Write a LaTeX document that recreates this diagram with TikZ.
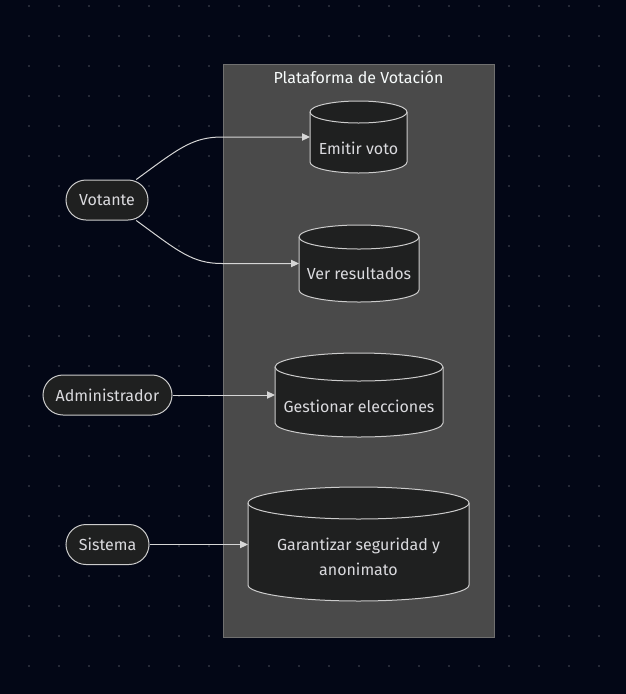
\documentclass[tikz,border=0pt]{standalone}
\usepackage{fontspec}
\setmainfont{Fira Sans}
\usetikzlibrary{arrows.meta}

\definecolor{bgnavy}{RGB}{3,7,22}
\definecolor{griddot}{RGB}{50,54,66}
\definecolor{groupfill}{RGB}{74,74,74}
\definecolor{groupline}{RGB}{112,112,112}
\definecolor{nodefill}{RGB}{31,32,32}
\definecolor{nodeline}{RGB}{204,204,204}
\definecolor{nodetext}{RGB}{218,218,222}
\definecolor{titletext}{RGB}{248,252,252}
\definecolor{linkcol}{RGB}{214,214,214}

\tikzset{every picture/.style={line width=0.75pt}}

\begin{document}
\begin{tikzpicture}[x=0.75pt,y=0.75pt,yscale=-1,xscale=1,
  actor/.style={draw=nodeline, fill=nodefill, rounded corners=15pt, minimum height=30pt, inner xsep=0pt, text=nodetext, font=\fontsize{12}{14}\selectfont},
  canbox/.style={inner sep=0pt, outer sep=0pt},
  can/.style={draw=nodeline, fill=nodefill},
  cantext/.style={text=nodetext, align=center, inner sep=0pt, font=\fontsize{12}{18.75}\selectfont},
  link/.style={draw=linkcol, -{Triangle[length=6pt,width=5.5pt]}}]
\useasboundingbox (0,0) rectangle (626,694);

%Background and dot grid
\fill[bgnavy] (0,0) rectangle (626,694);
\foreach \x in {29,59,...,599}
  \foreach \y in {6,36,...,666}
    \fill[griddot] (\x,\y) circle (1.2);

%Shape: Rectangle (subgraph)
\draw[draw=groupline, fill=groupfill] (223,64) rectangle (494,637);
% Text Node
\node[text=titletext, font=\fontsize{12}{14}\selectfont] (titulo) at (358.5,77) {Plataforma de Votación};

%Shape: Can
\draw[can] (310,112) arc[start angle=180,end angle=360,x radius=48.5,y radius=11] -- (407,162) arc[start angle=0,end angle=180,x radius=48.5,y radius=11] -- cycle;
\draw[nodeline] (310,112) arc[start angle=180,end angle=0,x radius=48.5,y radius=11];
\node[canbox, minimum width=72.75pt, minimum height=54pt] (emitir) at (358.5,137) {};
%Shape: Can
\draw[can] (299,237) arc[start angle=180,end angle=360,x radius=60,y radius=12] -- (419,290) arc[start angle=0,end angle=180,x radius=60,y radius=12] -- cycle;
\draw[nodeline] (299,237) arc[start angle=180,end angle=0,x radius=60,y radius=12];
\node[canbox, minimum width=90pt, minimum height=57.75pt] (resultados) at (359,263.5) {};
%Shape: Can
\draw[can] (275,367) arc[start angle=180,end angle=360,x radius=84,y radius=14] -- (443,423) arc[start angle=0,end angle=180,x radius=84,y radius=14] -- cycle;
\draw[nodeline] (275,367) arc[start angle=180,end angle=0,x radius=84,y radius=14];
\node[canbox, minimum width=126pt, minimum height=63pt] (gestionar) at (359,395) {};
%Shape: Can
\draw[can] (248,503) arc[start angle=180,end angle=360,x radius=110.5,y radius=16] -- (469,585) arc[start angle=0,end angle=180,x radius=110.5,y radius=16] -- cycle;
\draw[nodeline] (248,503) arc[start angle=180,end angle=0,x radius=110.5,y radius=16];
\node[canbox, minimum width=165.75pt, minimum height=85.5pt] (garantizar) at (358.5,544.5) {};

% Text Node
\node[cantext] (emitirtxt) at (358.5,148) {Emitir voto};
% Text Node
\node[cantext] (resultadostxt) at (359,274) {Ver resultados};
% Text Node
\node[cantext] (gestionartxt) at (359,406) {Gestionar elecciones};
% Text Node
\node[cantext] (garantizartxt) at (358.5,556.5) {Garantizar seguridad y\\anonimato};

%Shape: Rounded Rect
\node[actor, minimum width=61.5pt] (votante) at (107,200) {Votante};
\node[actor, minimum width=96.75pt] (admin) at (107.5,395) {Administrador};
\node[actor, minimum width=62.25pt] (sistema) at (107.5,544.5) {Sistema};

%Curve Lines
\draw[link] (votante.35) .. controls (178,149) and (192,137) .. (222,137) -- (emitir.west);
\draw[link] (votante.-35) .. controls (178,251) and (192,263.5) .. (222,263.5) -- (resultados.west);
%Straight Lines
\draw[link] (admin) -- (gestionar.west);
\draw[link] (sistema) -- (garantizar.west);

\end{tikzpicture}
\end{document}
